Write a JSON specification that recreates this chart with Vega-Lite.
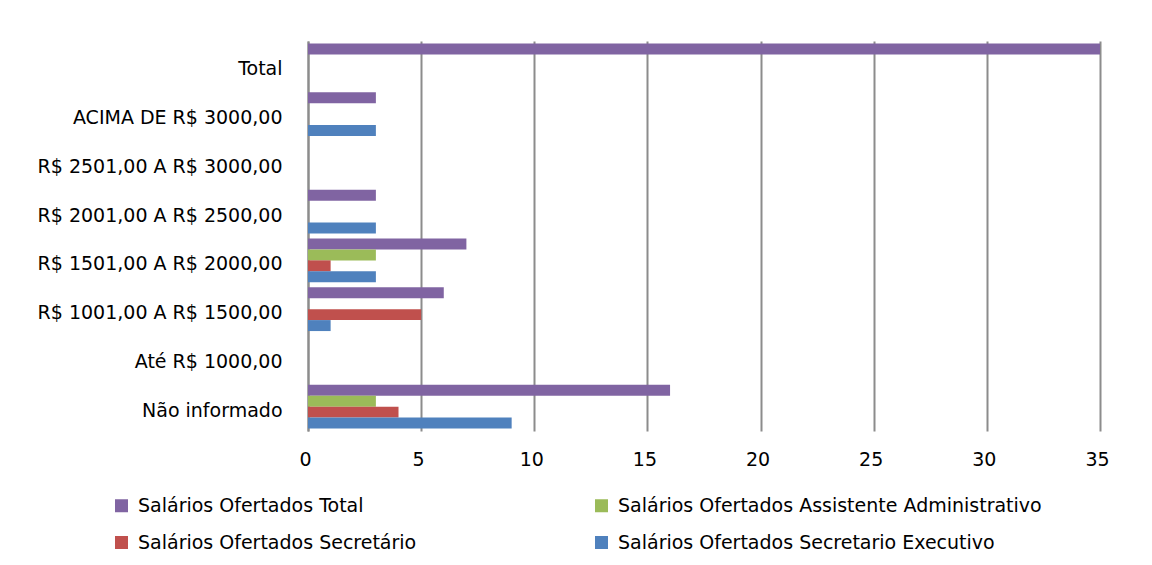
{
  "$schema": "https://vega.github.io/schema/vega-lite/v6.json",
  "autosize": {"type": "none"},
  "width": 792,
  "height": 390,
  "padding": {"left": 308, "top": 41, "right": 52, "bottom": 134},
  "background": "white",
  "data": {
    "values": [
      {"cat": "Total", "serie": "Salários Ofertados Total", "v": 35},
      {"cat": "Total", "serie": "Salários Ofertados Assistente Administrativo", "v": 0},
      {"cat": "Total", "serie": "Salários Ofertados Secretário", "v": 0},
      {"cat": "Total", "serie": "Salários Ofertados Secretario Executivo", "v": 0},
      {"cat": "ACIMA DE R$ 3000,00", "serie": "Salários Ofertados Total", "v": 3},
      {"cat": "ACIMA DE R$ 3000,00", "serie": "Salários Ofertados Assistente Administrativo", "v": 0},
      {"cat": "ACIMA DE R$ 3000,00", "serie": "Salários Ofertados Secretário", "v": 0},
      {"cat": "ACIMA DE R$ 3000,00", "serie": "Salários Ofertados Secretario Executivo", "v": 3},
      {"cat": "R$ 2501,00 A R$ 3000,00", "serie": "Salários Ofertados Total", "v": 0},
      {"cat": "R$ 2501,00 A R$ 3000,00", "serie": "Salários Ofertados Assistente Administrativo", "v": 0},
      {"cat": "R$ 2501,00 A R$ 3000,00", "serie": "Salários Ofertados Secretário", "v": 0},
      {"cat": "R$ 2501,00 A R$ 3000,00", "serie": "Salários Ofertados Secretario Executivo", "v": 0},
      {"cat": "R$ 2001,00 A R$ 2500,00", "serie": "Salários Ofertados Total", "v": 3},
      {"cat": "R$ 2001,00 A R$ 2500,00", "serie": "Salários Ofertados Assistente Administrativo", "v": 0},
      {"cat": "R$ 2001,00 A R$ 2500,00", "serie": "Salários Ofertados Secretário", "v": 0},
      {"cat": "R$ 2001,00 A R$ 2500,00", "serie": "Salários Ofertados Secretario Executivo", "v": 3},
      {"cat": "R$ 1501,00 A R$ 2000,00", "serie": "Salários Ofertados Total", "v": 7},
      {"cat": "R$ 1501,00 A R$ 2000,00", "serie": "Salários Ofertados Assistente Administrativo", "v": 3},
      {"cat": "R$ 1501,00 A R$ 2000,00", "serie": "Salários Ofertados Secretário", "v": 1},
      {"cat": "R$ 1501,00 A R$ 2000,00", "serie": "Salários Ofertados Secretario Executivo", "v": 3},
      {"cat": "R$ 1001,00 A R$ 1500,00", "serie": "Salários Ofertados Total", "v": 6},
      {"cat": "R$ 1001,00 A R$ 1500,00", "serie": "Salários Ofertados Assistente Administrativo", "v": 0},
      {"cat": "R$ 1001,00 A R$ 1500,00", "serie": "Salários Ofertados Secretário", "v": 5},
      {"cat": "R$ 1001,00 A R$ 1500,00", "serie": "Salários Ofertados Secretario Executivo", "v": 1},
      {"cat": "Até R$ 1000,00", "serie": "Salários Ofertados Total", "v": 0},
      {"cat": "Até R$ 1000,00", "serie": "Salários Ofertados Assistente Administrativo", "v": 0},
      {"cat": "Até R$ 1000,00", "serie": "Salários Ofertados Secretário", "v": 0},
      {"cat": "Até R$ 1000,00", "serie": "Salários Ofertados Secretario Executivo", "v": 0},
      {"cat": "Não informado", "serie": "Salários Ofertados Total", "v": 16},
      {"cat": "Não informado", "serie": "Salários Ofertados Assistente Administrativo", "v": 3},
      {"cat": "Não informado", "serie": "Salários Ofertados Secretário", "v": 4},
      {"cat": "Não informado", "serie": "Salários Ofertados Secretario Executivo", "v": 9}
    ]
  },
  "mark": {"type": "bar"},
  "encoding": {
    "y": {
      "field": "cat",
      "type": "nominal",
      "scale": {
        "domain": ["Total", "ACIMA DE R$ 3000,00", "R$ 2501,00 A R$ 3000,00", "R$ 2001,00 A R$ 2500,00", "R$ 1501,00 A R$ 2000,00", "R$ 1001,00 A R$ 1500,00", "Até R$ 1000,00", "Não informado"],
        "paddingInner": 0.1,
        "paddingOuter": 0.05
      },
      "axis": {
        "title": null,
        "ticks": false,
        "domain": true,
        "domainColor": "#8c8c8c",
        "domainWidth": 2,
        "labelFont": "DejaVu Sans",
        "labelFontSize": 19,
        "labelColor": "#000000",
        "labelPadding": 26,
        "labelOffset": 4,
        "labelLimit": 400
      }
    },
    "yOffset": {
      "field": "serie",
      "type": "nominal",
      "scale": {
        "domain": ["Salários Ofertados Total", "Salários Ofertados Assistente Administrativo", "Salários Ofertados Secretário", "Salários Ofertados Secretario Executivo"],
        "paddingInner": 0,
        "paddingOuter": 0
      }
    },
    "x": {
      "field": "v",
      "type": "quantitative",
      "scale": {"domain": [0, 35], "nice": false},
      "axis": {
        "title": null,
        "values": [0, 5, 10, 15, 20, 25, 30, 35],
        "grid": true,
        "gridColor": "#8c8c8c",
        "gridWidth": 2,
        "domain": false,
        "ticks": false,
        "labelFont": "DejaVu Sans",
        "labelFontSize": 19,
        "labelColor": "#000000",
        "labelPadding": 19,
        "labelOffset": -3,
        "labelFlush": false
      }
    },
    "color": {
      "field": "serie",
      "type": "nominal",
      "scale": {
        "domain": ["Salários Ofertados Total", "Salários Ofertados Assistente Administrativo", "Salários Ofertados Secretário", "Salários Ofertados Secretario Executivo"],
        "range": ["#8064A2", "#9BBB59", "#C0504D", "#4F81BD"]
      },
      "legend": {
        "title": null,
        "orient": "none",
        "direction": "horizontal",
        "legendX": -196,
        "legendY": 455,
        "columns": 2,
        "columnPadding": 175,
        "rowPadding": 17,
        "symbolType": "square",
        "symbolSize": 169,
        "symbolStrokeWidth": 0,
        "labelFont": "DejaVu Sans",
        "labelFontSize": 19,
        "labelColor": "#000000",
        "labelOffset": 7,
        "labelLimit": 500
      }
    }
  },
  "config": {
    "view": {"stroke": null}
  }
}
